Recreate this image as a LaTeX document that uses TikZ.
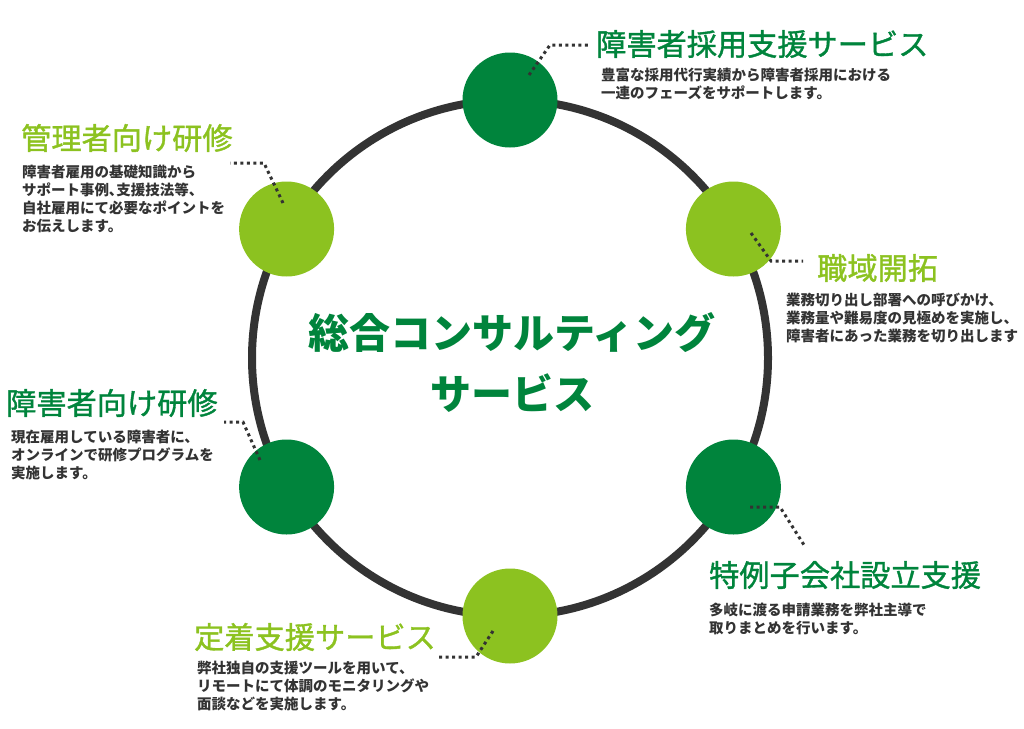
\documentclass[tikz,border=0pt]{standalone}
\usepackage{fontspec}
\newfontfamily\jp{Noto Sans CJK JP}
\newfontfamily\jpm[FakeBold=1.2]{Noto Sans CJK JP}
\definecolor{dgreen}{HTML}{00843C}
\definecolor{lgreen}{HTML}{8CC220}
\definecolor{ink}{HTML}{333333}
\tikzset{
	ball/.style={circle,minimum size=95pt,inner sep=0pt},
	ttl/.style={anchor=west,inner sep=0pt,font=\jpm\fontsize{30.2}{36}\selectfont},
	txt/.style={anchor=north west,inner sep=0pt,align=left,text=ink,font=\jp\bfseries\fontsize{14.5}{18}\selectfont},
	dots/.style={ink,line width=3pt,dash pattern=on 3pt off 3.5pt}
}
\begin{document}
\begin{tikzpicture}[x=1pt,y=-1pt]
				\useasboundingbox (0,0) rectangle (1024,728);
				\path (510,358) coordinate (O);
				\draw[ink,line width=8pt] (O) circle[radius=258pt];
				\node[ball,fill=dgreen] (s1) at (510,100) {};
				\node[ball,fill=lgreen] (s2) at (733.4,229) {};
				\node[ball,fill=dgreen] (s3) at (733.4,487) {};
				\node[ball,fill=lgreen] (s4) at (510,616) {};
				\node[ball,fill=dgreen] (s5) at (286.6,487) {};
				\node[ball,fill=lgreen] (s6) at (286.6,229) {};
				\node[font=\jp\bfseries\fontsize{41}{61}\selectfont,text=dgreen,align=center] (head) at (512,362) {総合コンサルティング\\サービス};
				\node[ttl,text=dgreen] (t1) at (596,44) {障害者採用支援サービス};
				\node[txt] (d1) at (601,67.7) {豊富な採用代行実績から障害者採用における\\一連のフェーズをサポートします。};
				\node[ttl,text=lgreen] (t2) at (817,268) {職域開拓};
				\node[txt] (d2) at (786,292.7) {業務切り出し部署への呼びかけ、\\業務量や難易度の見極めを実施し、\\障害者にあった業務を切り出します};
				\node[ttl,text=dgreen] (t3) at (709,575) {特例子会社設立支援};
				\node[txt] (d3) at (709,602.7) {多岐に渡る申請業務を弊社主導で\\取りまとめを行います。};
				\node[ttl,text=lgreen] (t4) at (194,637) {定着支援サービス};
				\node[txt] (d4) at (197,660.7) {弊社独自の支援ツールを用いて、\\リモートにて体調のモニタリングや\\面談などを実施します。};
				\node[ttl,text=dgreen] (t5) at (6,403) {障害者向け研修};
				\node[txt] (d5) at (11,429.7) {現在雇用している障害者に、\\オンラインで研修プログラムを\\実施します。};
				\node[ttl,text=lgreen] (t6) at (21,138) {管理者向け研修};
				\node[txt] (d6) at (22,164.7) {障害者雇用の基礎知識から\\サポート事例､支援技法等、\\自社雇用にて必要なポイントを\\お伝えします。};
				\path (529,75) coordinate (p1) (550,45) coordinate (q1) (590,45) coordinate (r1);
				\path (751,233) coordinate (p2) (771,261) coordinate (q2) (803,261) coordinate (r2);
				\path (750,507) coordinate (p3) (780,507) coordinate (q3) (804,545) coordinate (r3);
				\path (493,631) coordinate (p4) (476,657) coordinate (q4) (439,657) coordinate (r4);
				\path (260,460) coordinate (p5) (243,422) coordinate (q5) (224,422) coordinate (r5);
				\path (283,203) coordinate (p6) (264,163) coordinate (q6) (230,163) coordinate (r6);
				\draw[dots] (p1) -- (q1) -- (r1) (p2) -- (q2) -- (r2) (p3) -- (q3) -- (r3);
				\draw[dots] (p4) -- (q4) -- (r4) (p5) -- (q5) -- (r5) (p6) -- (q6) -- (r6);
			\end{tikzpicture}
\end{document}
